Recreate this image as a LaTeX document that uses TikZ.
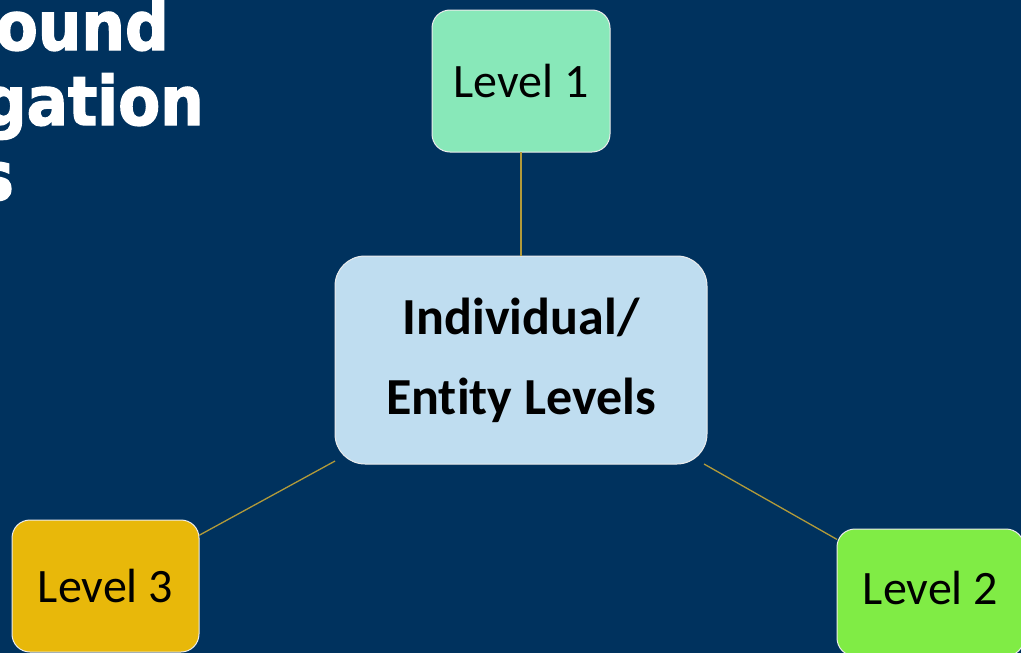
\documentclass[tikz,border=0pt]{standalone}
\usepackage{fontspec}
\setmainfont{Carlito}[Ligatures={NoCommon}]
\newfontfamily\titlefont{DejaVu Sans}[BoldFeatures={FakeBold=2,FakeStretch=0.9}]
\definecolor{bgnavy}{HTML}{00325E}
\definecolor{lvlone}{HTML}{88E8B9}
\definecolor{lvltwo}{HTML}{80EC45}
\definecolor{lvlthree}{HTML}{E8B80A}
\definecolor{centerfill}{HTML}{BFDDF0}
\definecolor{connline}{HTML}{B29A3A}
\begin{document}
\begin{tikzpicture}[x=1pt,y=-1pt,
  levelbox/.style={draw=white!85!gray, line width=1pt, inner sep=0pt, outer sep=0pt,
    rounded corners=18pt, align=center, text=black,
    font=\fontsize{48}{58}\selectfont},
  centerbox/.style={levelbox, rounded corners=30pt,
    font=\fontsize{52}{80}\selectfont\bfseries},
  conn/.style={draw=connline, line width=1.3pt},
  titletext/.style={text=white, inner sep=0pt, anchor=base east,
    font=\titlefont\bfseries\fontsize{68}{75}\selectfont}]
\useasboundingbox (0,0) rectangle (1021,653);
\clip (0,0) rectangle (1021,653);
\fill[bgnavy] (0,0) rectangle (1021,653);
% title fragments
\node[titletext] (t1) at (169,50) {ound};
\node[titletext] (t2) at (204,125) {gation};
\node[titletext] (t3) at (14,200) {s};
% boxes
\node[centerbox, fill=centerfill, minimum width=372pt, minimum height=208pt] (c) at (521,360) {Individual/\\Entity Levels};
\node[levelbox, fill=lvlone, minimum width=178pt, minimum height=142pt] (l1) at (521,81) {Level 1};
\node[levelbox, fill=lvlthree, minimum width=187pt, minimum height=132pt] (l3) at (105.5,586) {Level 3};
\node[levelbox, fill=lvltwo, minimum width=187pt, minimum height=127pt, text depth=10pt] (l2) at (930.5,592.5) {Level 2};
% connectors
\draw[conn] (c) -- (l1);
\draw[conn] (c) -- (l3);
\draw[conn] (c) -- (l2);
\end{tikzpicture}
\end{document}
